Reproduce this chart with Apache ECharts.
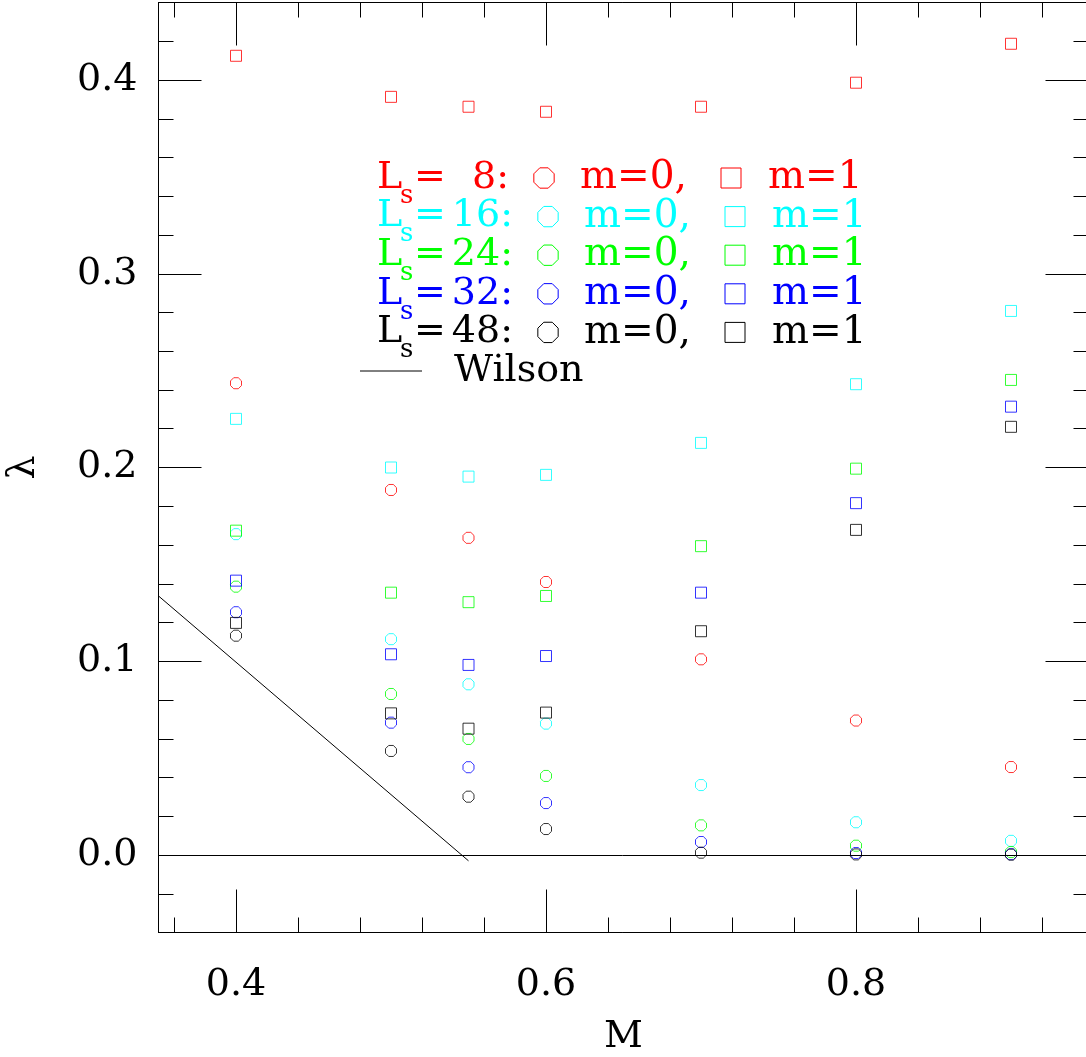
<!DOCTYPE html>
<html>
<head>
<meta charset="utf-8">
<title>λ versus M</title>
<script src="https://cdn.jsdelivr.net/npm/echarts@6/dist/echarts.min.js"></script>
<style>
  html, body { margin: 0; padding: 0; background: #fff; }
  #chart { width: 1086px; height: 1057px; }
</style>
</head>
<body>
<div id="chart"></div>
<script>
// Masses M at which lambda was measured
const M = [0.4, 0.5, 0.55, 0.6, 0.7, 0.8, 0.9];

// Fifth-dimension extents
const Ls = [8, 16, 24, 32, 48];
const colors = ['#ff0000', '#00ffff', '#00ff00', '#0000ff', '#000000'];

// lambda for m=0 (octagons), one array per Ls
const m0_L8  = [0.2435, 0.1884, 0.1637, 0.1409, 0.1010, 0.0694, 0.0454];
const m0_L16 = [0.1656, 0.1114, 0.0881, 0.0678, 0.0361, 0.0169, 0.0073];
const m0_L24 = [0.1385, 0.0831, 0.0599, 0.0408, 0.0153, 0.0048, 0.0015];
const m0_L32 = [0.1253, 0.0683, 0.0453, 0.0268, 0.0067, 0.0010, 0.0004];
const m0_L48 = [0.1132, 0.0537, 0.0301, 0.0134, 0.0012, 0.0003, 0.0002];

// lambda for m=1 (squares), one array per Ls
const m1_L8  = [0.4125, 0.3913, 0.3862, 0.3836, 0.3862, 0.3986, 0.4187];
const m1_L16 = [0.2251, 0.2000, 0.1953, 0.1962, 0.2127, 0.2430, 0.2808];
const m1_L24 = [0.1674, 0.1354, 0.1305, 0.1337, 0.1594, 0.1994, 0.2452];
const m1_L32 = [0.1416, 0.1036, 0.0981, 0.1027, 0.1354, 0.1816, 0.2314];
const m1_L48 = [0.1198, 0.0731, 0.0652, 0.0735, 0.1155, 0.1678, 0.2210];

// Wilson line end points (M, lambda)
const wilsonM = [0.35, 0.55];
const wilsonLambda = [0.1337, -0.003];

// Axis ticks
const xMajor = [0.4, 0.6, 0.8];
const xMinor = [0.36, 0.44, 0.48, 0.52, 0.56, 0.64, 0.68, 0.72, 0.76, 0.84, 0.88, 0.92];
const yMajor = [0.0, 0.1, 0.2, 0.3, 0.4];
const yMinor = [-0.02, 0.02, 0.04, 0.06, 0.08, 0.12, 0.14, 0.16, 0.18, 0.22, 0.24, 0.26, 0.28,
                0.32, 0.34, 0.36, 0.38, 0.42];

const m0Sets = [m0_L8, m0_L16, m0_L24, m0_L32, m0_L48];
const m1Sets = [m1_L8, m1_L16, m1_L24, m1_L32, m1_L48];

const FONT = 'DejaVu Serif';
const OCTAGON = 'path://M29,0 L71,0 L100,29 L100,71 L71,100 L29,100 L0,71 L0,29 Z';
const ink = { color: '#000', width: 1 };

function pairs(xs, ys) { return xs.map((x, i) => [x, ys[i]]); }

function scatter(name, values, color, symbol) {
  return {
    name, type: 'scatter', xAxisIndex: 0, yAxisIndex: 0,
    data: pairs(M, values),
    symbol, symbolSize: 11,
    itemStyle: { color: 'rgba(0,0,0,0)', borderColor: color, borderWidth: 1 },
    emphasis: { disabled: true }, silent: true
  };
}

const series = [];
Ls.forEach((L, i) => {
  series.push(scatter('Ls=' + L + ' m=0', m0Sets[i], colors[i], OCTAGON));
  series.push(scatter('Ls=' + L + ' m=1', m1Sets[i], colors[i], 'rect'));
});
series.push({
  name: 'Wilson', type: 'line', xAxisIndex: 0, yAxisIndex: 0,
  data: pairs(wilsonM, wilsonLambda),
  symbol: 'none', lineStyle: ink, silent: true, z: 1,
  markLine: {
    silent: true, symbol: 'none', label: { show: false },
    lineStyle: { color: '#000', width: 1, type: 'solid' },
    data: [{ yAxis: 0 }]
  }
});

function xAxisDef(position, ticks, len, labels) {
  return {
    type: 'value', position, min: 0.35, max: 0.95,
    axisLine: { show: true, onZero: false, lineStyle: ink },
    axisTick: { show: true, inside: true, length: len, customValues: ticks, lineStyle: ink },
    axisLabel: labels ? {
      show: true, customValues: xMajor, margin: 34,
      fontFamily: FONT, fontSize: 38, color: '#000',
      formatter: v => v.toFixed(1)
    } : { show: false },
    splitLine: { show: false }
  };
}
function yAxisDef(position, ticks, len, labels) {
  return {
    type: 'value', position, min: -0.04, max: 0.44,
    axisLine: { show: true, onZero: false, lineStyle: ink },
    axisTick: { show: true, inside: true, length: len, customValues: ticks, lineStyle: ink },
    axisLabel: labels ? {
      show: true, customValues: yMajor, margin: 21,
      fontFamily: FONT, fontSize: 38, color: '#000',
      formatter: v => v.toFixed(1)
    } : { show: false },
    splitLine: { show: false }
  };
}

const xAxes = [
  xAxisDef('bottom', xMajor, 43, true),
  xAxisDef('bottom', xMinor, 15, false),
  xAxisDef('top', xMajor, 43, false),
  xAxisDef('top', xMinor, 15, false)
];
Object.assign(xAxes[0], {
  name: 'M', nameLocation: 'middle', nameGap: 86,
  nameTextStyle: { fontFamily: FONT, fontSize: 38, color: '#000' }
});
const yAxes = [
  yAxisDef('left', yMajor, 43, true),
  yAxisDef('left', yMinor, 15, false),
  yAxisDef('right', yMajor, 43, false),
  yAxisDef('right', yMinor, 15, false)
];
Object.assign(yAxes[0], {
  name: 'λ', nameLocation: 'middle', nameGap: 115,
  nameTextStyle: { fontFamily: FONT, fontSize: 38, color: '#000' }
});

// Key drawn in the upper middle of the frame
function txt(s, x, y, fill, size, align) {
  return { type: 'text', x, y, silent: true,
    style: { text: s, fill, fontFamily: FONT, fontSize: size, align, verticalAlign: 'middle' } };
}
function octagon(cx, cy, r, stroke) {
  const pts = [];
  for (let k = 0; k < 8; k++) {
    const a = Math.PI / 8 + k * Math.PI / 4;
    pts.push([cx + r * Math.cos(a), cy + r * Math.sin(a)]);
  }
  return { type: 'polygon', silent: true, shape: { points: pts },
    style: { fill: 'none', stroke, lineWidth: 1 } };
}
function square(cx, cy, s, stroke) {
  return { type: 'rect', silent: true, shape: { x: cx - s / 2, y: cy - s / 2, width: s, height: s },
    style: { fill: 'none', stroke, lineWidth: 1 } };
}

const key = [];
const ROW0 = 178, ROW_DY = 38.6;
Ls.forEach((L, i) => {
  const y = ROW0 + i * ROW_DY;
  const sh = L < 10 ? 0 : 4;
  const c = colors[i];
  key.push(txt('L', 377, y, c, 38, 'left'));
  key.push(txt('s', 400, y + 18, c, 26, 'left'));
  key.push(txt('=', 414, y, c, 38, 'left'));
  key.push(txt(L + ':', 509 + sh, y, c, 38, 'right'));
  key.push(octagon(544 + sh, y, 11, c));
  key.push(txt('m=0,', 580 + sh, y, c, 39, 'left'));
  key.push(square(731 + sh, y, 20, c));
  key.push(txt('m=1', 768 + sh, y, c, 39, 'left'));
});
const wy = ROW0 + 5 * ROW_DY;
key.push({ type: 'line', silent: true, shape: { x1: 360, y1: wy, x2: 422, y2: wy },
  style: { stroke: '#000', lineWidth: 1 } });
key.push(txt('Wilson', 454, wy, '#000', 38, 'left'));

const chart = echarts.init(document.getElementById('chart'), null, { renderer: 'canvas' });
chart.setOption({
  animation: false,
  backgroundColor: '#fff',
  grid: { left: 158.5, top: 2.5, width: 930, height: 930, containLabel: false, outerBoundsMode: 'none' },
  xAxis: xAxes,
  yAxis: yAxes,
  series,
  graphic: key
});
</script>
</body>
</html>
